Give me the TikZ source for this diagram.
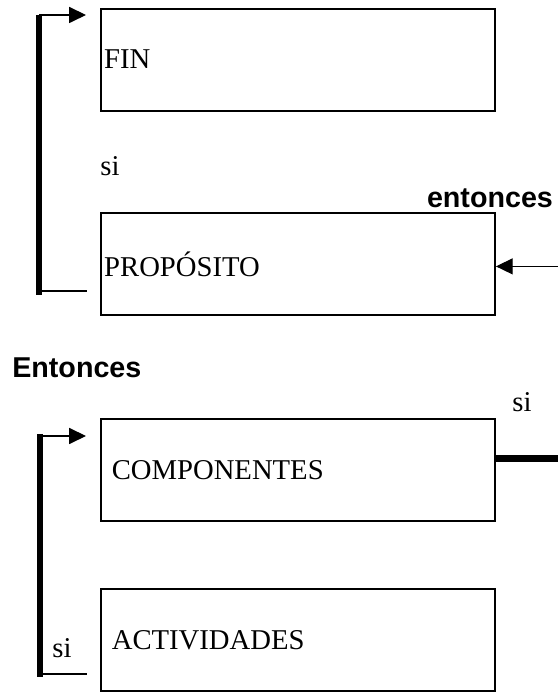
\documentclass[tikz,border=0pt]{standalone}
\usepackage{fontspec}
\setmainfont{Liberation Serif}
\setsansfont{Liberation Sans}
\usetikzlibrary{arrows.meta}
\tikzset{
  caja/.style={draw,line width=1.3pt,minimum width=9.85cm,minimum height=2.55cm,
    inner xsep=.08cm,text width=9.69cm,align=left,font=\fontsize{20.4}{24}\selectfont},
  cajab/.style={caja,inner xsep=.27cm,text width=9.31cm},
  flecha/.style={line width=.8pt,-{Triangle[length=.42cm,width=.4cm]}},
  grueso/.style={line width=4.2pt},
  etiq/.style={font=\fontsize{20.4}{24}\selectfont,inner sep=0pt},
  negrita/.style={font=\fontsize{20.4}{24}\selectfont\sffamily\bfseries,inner sep=0pt}
}

\begin{document}
\begin{tikzpicture}
  \useasboundingbox (0,0) rectangle (13.95,17.35);
  \draw(7.45,15.86) node[caja] (F) {FIN};
  \draw(7.45,10.75) node[caja] (P) {PROP\'OSITO};
  \draw(7.45,5.6) node[cajab] (C) {COMPONENTES};
  \draw(7.45,1.34) node[cajab] (A) {ACTIVIDADES};
  % lazo superior
  \coordinate (s1) at (.975,16.975);
  \coordinate (s2) at (.975,9.975);
  \coordinate (f1) at (2.15,16.975);
  \coordinate (f2) at (2.175,10.075);
  \draw[grueso] (s1) -- (s2);
  \draw[flecha] (s1) -- (f1);
  \draw[line width=.8pt] (s2 |- f2) -- (f2);
  \node[etiq] (si1) at (2.75,13.2) {si};
  % entrada derecha
  \coordinate (e1) at (13.95,10.69);
  \draw[flecha] (e1) -- (P.east |- e1);
  \node[negrita,anchor=east] (ent1) at (13.83,12.4) {entonces};
  \node[negrita,anchor=west] (ent2) at (.3,8.15) {Entonces};
  % lazo inferior
  \coordinate (s3) at (1,6.5);
  \coordinate (s4) at (1,.425);
  \coordinate (f3) at (2.15,6.45);
  \coordinate (f4) at (2.175,.5);
  \draw[grueso] (s3) -- (s4);
  \draw[flecha] (s3 |- f3) -- (f3);
  \draw[line width=.8pt] (s4 |- f4) -- (f4);
  \node[etiq] (si2) at (1.55,1.15) {si};
  % salida derecha
  \coordinate (e2) at (13.95,5.89);
  \draw[line width=4.6pt] (C.east |- e2) -- (e2);
  \node[etiq] (si3) at (13.05,7.3) {si};
\end{tikzpicture}
\end{document}
